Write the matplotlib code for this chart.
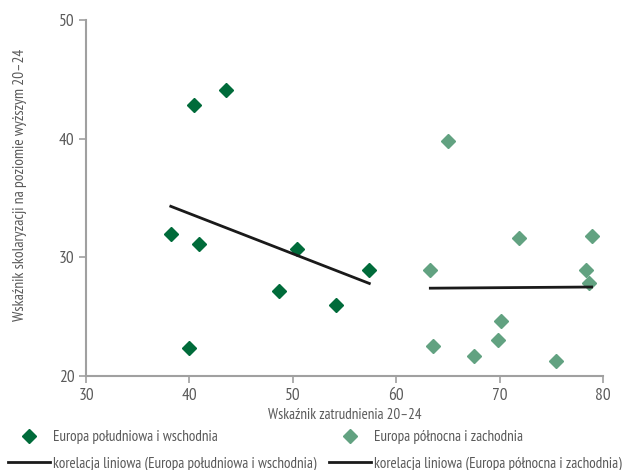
import matplotlib
matplotlib.use("Agg")
import matplotlib.pyplot as plt
from matplotlib.lines import Line2D

# Europa południowa i wschodnia
se_x = [40.4, 43.5, 38.2, 40.9, 50.4, 48.7, 40.0, 54.2, 57.4]
se_y = [42.8, 44.1, 32.0, 31.1, 30.7, 27.2, 22.4, 26.0, 28.9]
se_fit_x = [38.2, 57.4]
se_fit_y = [34.3, 27.8]

# Europa północna i zachodnia
nw_x = [65.0, 63.3, 71.9, 78.9, 78.4, 78.6, 70.1, 69.8, 63.6, 67.5, 75.5]
nw_y = [39.8, 28.9, 31.6, 31.8, 28.9, 27.8, 24.6, 23.0, 22.5, 21.7, 21.3]
nw_fit_x = [63.3, 78.9]
nw_fit_y = [27.4, 27.5]

x_ticks = [30, 40, 50, 60, 70, 80]
y_ticks = [20, 30, 40, 50]

plt.rcParams['font.family'] = ['PT Sans Narrow', 'DejaVu Sans']
gray = '#5a5a5a'
axis_gray = '#a0a0a0'
dark = '#006b3a'
light = '#62a281'
line_c = '#1a1a1a'

fig = plt.figure(figsize=(6.25, 4.7), dpi=100)
ax = fig.add_axes([0.1376, 0.2, 0.8272, 0.7574])

ax.plot(se_x, se_y, linestyle='', marker='D', markersize=7.5, color=dark)
ax.plot(nw_x, nw_y, linestyle='', marker='D', markersize=7.5, color=light)
ax.plot(se_fit_x, se_fit_y, color=line_c, linewidth=2)
ax.plot(nw_fit_x, nw_fit_y, color=line_c, linewidth=2)

ax.set_xlim(30, 80)
ax.set_ylim(20, 50)
ax.set_xticks(x_ticks)
ax.set_yticks(y_ticks)
for s in ['top', 'right']:
    ax.spines[s].set_visible(False)
for s in ['left', 'bottom']:
    ax.spines[s].set_color(axis_gray)
    ax.spines[s].set_linewidth(1.5)
ax.tick_params(colors=axis_gray, labelcolor=gray, labelsize=12.5, width=1.2, length=5)

ax.set_xlabel('Wskaźnik zatrudnienia 20–24', color=gray, fontsize=10.8, labelpad=3)
ax.set_ylabel('Wskaźnik skolaryzacji na poziomie wyższym 20–24', color=gray, fontsize=11.2)
ax.yaxis.set_label_coords(-0.114, 0.537)

leg_kw = dict(ncol=1, loc='upper left', frameon=False, fontsize=10.9, labelcolor=gray,
              handlelength=2.8, handletextpad=0.2, labelspacing=0.8,
              borderaxespad=0, borderpad=0)

h1 = [Line2D([], [], linestyle='', marker='D', markersize=7.5, color=dark),
      Line2D([], [], color=line_c, linewidth=2)]
l1 = ['Europa południowa i wschodnia',
      'korelacja liniowa (Europa południowa i wschodnia)']
h2 = [Line2D([], [], linestyle='', marker='D', markersize=7.5, color=light),
      Line2D([], [], color=line_c, linewidth=2)]
l2 = ['Europa północna i zachodnia',
      'korelacja liniowa (Europa północna i zachodnia)']

leg1 = fig.legend(h1, l1, bbox_to_anchor=(0.012, 0.085), **leg_kw)
leg2 = fig.legend(h2, l2, bbox_to_anchor=(0.526, 0.085), **leg_kw)

fig.savefig('out.png', dpi=100)
